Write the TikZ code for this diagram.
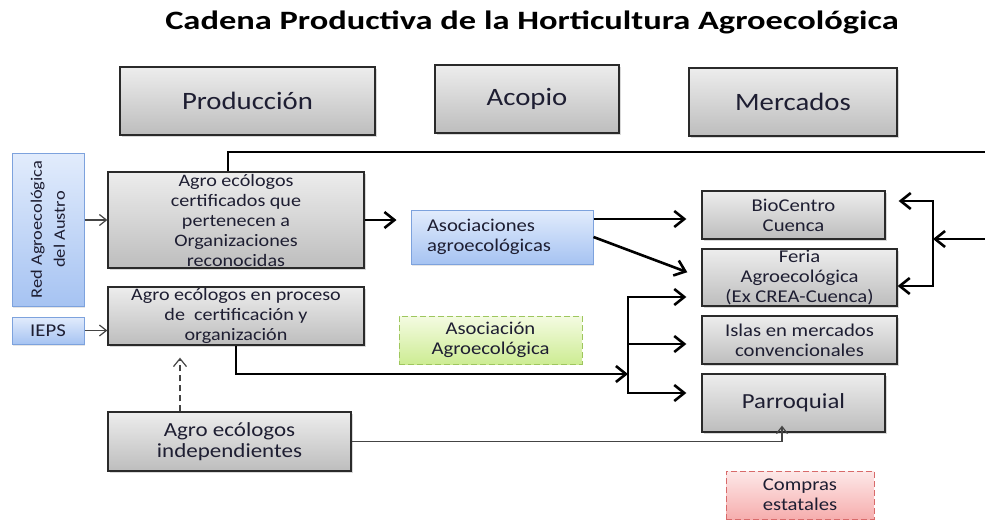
\documentclass[tikz,border=0pt]{standalone}
\usepackage{fontspec}
\setmainfont{Carlito}[FakeStretch=1.15]
\newfontfamily\titlefont{Carlito}[FakeStretch=1.3]
\usetikzlibrary{arrows.meta,shadows}

\definecolor{txt}{HTML}{1E1E32}
\definecolor{boxline}{HTML}{2A2A2A}
\definecolor{grayTop}{HTML}{EDEDED}
\definecolor{grayBot}{HTML}{BDBDBD}
\definecolor{blueTop}{HTML}{E2ECFC}
\definecolor{blueBot}{HTML}{A6C3F2}
\definecolor{blueLine}{HTML}{7DA2DD}
\definecolor{greenTop}{HTML}{F4FBE2}
\definecolor{greenBot}{HTML}{CDEC93}
\definecolor{greenLine}{HTML}{9EC65E}
\definecolor{redTop}{HTML}{FDE8E8}
\definecolor{redBot}{HTML}{F6AEAE}
\definecolor{redLine}{HTML}{D86A6A}
\definecolor{linegray}{HTML}{444444}

\begin{document}
\begin{tikzpicture}[x=1pt,y=-1pt,
   >={Straight Barb[length=10pt,width=16pt]},
   gbox/.style={draw=boxline,line width=1.3pt,top color=grayTop,bottom color=grayBot,
     drop shadow={shadow xshift=1.5pt,shadow yshift=-2pt,opacity=0.3},
     inner sep=0pt,align=center,text=txt,font=\fontsize{18}{20}\selectfont},
   hbox/.style={gbox,font=\fontsize{25}{28}\selectfont},
   bbox/.style={draw=blueLine,line width=1pt,top color=blueTop,bottom color=blueBot,
     drop shadow={shadow xshift=1pt,shadow yshift=-1.5pt,opacity=0.2},
     inner sep=0pt,align=center,text=txt,font=\fontsize{18}{20}\selectfont},
   grnbox/.style={draw=greenLine,line width=1pt,dashed,dash pattern=on 6pt off 3pt,
     top color=greenTop,bottom color=greenBot,
     inner sep=0pt,align=center,text=txt,font=\fontsize{18}{20}\selectfont},
   redbox/.style={grnbox,draw=redLine,top color=redTop,bottom color=redBot},
   thk/.style={line width=2.6pt,black},
   thn/.style={line width=1.2pt,draw=linegray,-{Straight Barb[length=7pt,width=11pt]}},
   dsh/.style={thn,dashed,dash pattern=on 6pt off 4pt,-{Straight Barb[length=8pt,width=13pt]}}]
  \useasboundingbox (0,0) rectangle (985,520);
  % title
  \node[anchor=base,text=black,font=\titlefont\bfseries\fontsize{26.5}{30}\selectfont] (title) at (532,29)
    {Cadena Productiva de la Horticultura Agroecológica};
  % stages
  \node[hbox,minimum width=255pt,minimum height=68pt] (prod) at (247.5,101) {Producción};
  \node[hbox,minimum width=184pt,minimum height=68pt] (acop) at (527,99) {Acopio};
  \node[hbox,minimum width=208pt,minimum height=68pt] (merc) at (793,102) {Mercados};
  % support
  \node[bbox,minimum width=72pt,minimum height=153pt] (red) at (48,229.5) {};
  \node[rotate=90,align=center,text=txt,font=\fontsize{16}{23}\selectfont] (redlbl) at (red.center)
    {Red Agroecológica\\del Austro};
  \node[bbox,minimum width=72pt,minimum height=27pt] (ieps) at (48,330.5) {IEPS};
  % producers
  \node[gbox,minimum width=256pt,minimum height=96pt,font=\fontsize{17.5}{20}\selectfont] (cert) at (236,220)
    {Agro ecólogos\\certificados que\\pertenecen a\\Organizaciones\\reconocidas};
  \node[gbox,minimum width=256pt,minimum height=58pt,font=\fontsize{17.5}{20}\selectfont] (proc) at (236,316)
    {Agro ecólogos en proceso\\de~ certificación y\\organización};
  \node[gbox,minimum width=243pt,minimum height=59pt,font=\fontsize{20}{21}\selectfont] (indep) at (229.5,441.5)
    {Agro ecólogos\\independientes};
  % collection
  \node[bbox,minimum width=182pt,minimum height=54pt,text width=150pt,align=left] (asoc) at (502,237)
    {Asociaciones\\agroecológicas};
  \node[grnbox,minimum width=183pt,minimum height=48pt] (asocg) at (490.5,340) {Asociación\\Agroecológica};
  % markets
  \node[gbox,minimum width=183pt,minimum height=48pt] (bio) at (793.5,215) {BioCentro\\Cuenca};
  \node[gbox,minimum width=195pt,minimum height=57pt] (feria) at (799.5,277.5) {Feria\\Agroecológica\\(Ex CREA-Cuenca)};
  \node[gbox,minimum width=195pt,minimum height=48pt] (islas) at (799.5,340) {Islas en mercados\\convencionales};
  \node[gbox,minimum width=183pt,minimum height=58pt,font=\fontsize{21.5}{24}\selectfont] (parr) at (793.5,403) {Parroquial};
  \node[redbox,minimum width=148pt,minimum height=48pt] (compr) at (800,495) {Compras\\estatales};
  % junction points
  \coordinate (a1) at ([yshift=18pt]asoc.east);
  \coordinate (topR) at (1000,152);
  \coordinate (jR) at (933,239);
  \coordinate (rTop) at (933,201);
  \coordinate (rBot) at (933,286);
  \coordinate (lIn) at (628,374);
  \coordinate (lTop) at (628,297);
  \coordinate (lMid) at (628,344);
  \coordinate (lBot) at (628,393);
  \coordinate (dA) at ([xshift=-49.5pt]indep.north);
  \coordinate (pA) at ([xshift=-11.5pt]parr.south);
  % connectors
  \draw[thn] (red.east |- cert.west) -- (cert.west);
  \draw[thn] (ieps.east) -- (ieps.east -| proc.west);
  \draw[thk,->,shorten >=14pt] (cert.east) -- (cert.east -| asoc.west);
  \draw[thk,->,shorten >=15pt] (a1) -- (a1 -| bio.west);
  \draw[thk,->,shorten >=15pt] (asoc.east) -- (feria.west);
  \draw[thk,->] ([xshift=-8pt]cert.north) |- (topR) |- (jR);
  \draw[thk,<->,shorten <=13pt] (rTop -| bio.east) -- (rTop) -- (rBot) -- (rBot -| feria.east);
  \draw[thk,->] (proc.south) |- (lIn);
  \draw[thk,<->,shorten <=15pt,shorten >=15pt] (lTop -| feria.west) -- (lTop) -- (lBot) -- (lBot -| parr.west);
  \draw[thk,->,shorten >=15pt] (lMid) -- (lMid -| islas.west);
  \draw[thn,shorten >=-7pt] (indep.east) -| (pA);
  \draw[dsh,shorten >=12pt] (dA) -- (dA |- proc.south);
\end{tikzpicture}
\end{document}
